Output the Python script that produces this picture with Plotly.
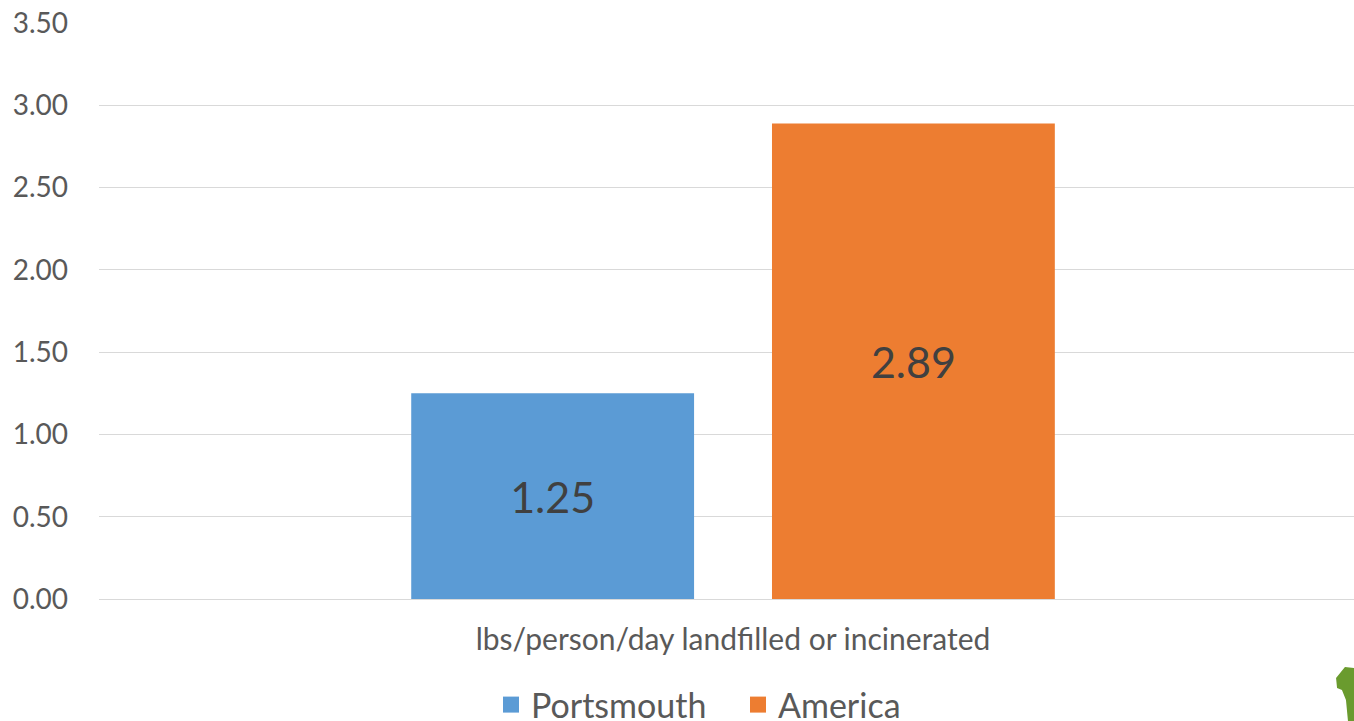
import plotly.graph_objects as go

# Chart data
category = ["lbs/person/day landfilled or incinerated"]
series_names = ["Portsmouth", "America"]
portsmouth_values = [1.25]
america_values = [2.89]
y_tick_values = [0, 0.5, 1.0, 1.5, 2.0, 2.5, 3.0, 3.5]
y_tick_labels = ["0.00", "0.50", "1.00", "1.50", "2.00", "2.50", "3.00", "3.50"]

colors = {"Portsmouth": "#5B9BD5", "America": "#ED7D31"}
text_grey = "#595959"
font_family = "Lato, 'Open Sans', sans-serif"

fig = go.Figure()
for name, values in zip(series_names, [portsmouth_values, america_values]):
    fig.add_trace(go.Bar(
        x=category, y=values, name=name,
        marker=dict(color=colors[name], line=dict(width=0)),
        text=[f"{v:.2f}" for v in values],
        textposition="inside", insidetextanchor="middle",
        textfont=dict(size=43, color="#404040", family=font_family),
        showlegend=False,
    ))
    # legend entry with a bigger square marker
    fig.add_trace(go.Scatter(
        x=[None], y=[None], mode="markers", name=name,
        marker=dict(symbol="square", size=22, color=colors[name]),
    ))

# helper for the small green decoration in the corner (pixel -> paper)
def px(x, y):
    return (x - 99) / 1255, (599 - y) / 576

pts = [px(1336, 678), px(1345, 667), px(1354, 668), px(1354, 721),
       px(1348, 721), px(1346, 700), px(1342, 690), px(1337, 688)]
path = "M " + " L ".join(f"{a:.4f},{b:.4f}" for a, b in pts) + " Z"

fig.update_layout(
    width=1354, height=721,
    margin=dict(l=99, r=0, t=23, b=122, autoexpand=False),
    paper_bgcolor="white", plot_bgcolor="white",
    font=dict(family=font_family, color=text_grey, size=27),
    barmode="group", bargap=0.431, bargroupgap=0.216,
    xaxis=dict(range=[-0.5, 0.4897], showgrid=False, showline=False,
               ticks="", tickfont=dict(size=30, color=text_grey),
               ticklabelstandoff=20, automargin=False),
    yaxis=dict(range=[0, 3.5001], tickvals=y_tick_values, ticktext=y_tick_labels,
               showgrid=True, gridcolor="#D9D9D9", gridwidth=1,
               zeroline=True, zerolinecolor="#D9D9D9", zerolinewidth=1,
               showline=False, ticks="", tickfont=dict(size=28, color=text_grey),
               ticklabelstandoff=30, automargin=False),
    legend=dict(orientation="h", xref="container", x=491 / 1354, xanchor="left",
                yref="container", y=(721 - 705) / 721, yanchor="middle",
                font=dict(size=34, color=text_grey), itemwidth=30,
                entrywidth=202, entrywidthmode="pixels", tracegroupgap=0),
    shapes=[dict(type="path", path=path, xref="paper", yref="paper",
                 fillcolor="#6A9B2E", line=dict(width=0), layer="above")],
)

# drop the default page margin so the figure sits at the window's top-left
fig.write_html("out.html", config={"displayModeBar": False},
               post_script="document.body.style.margin='0';"
                           "document.body.style.overflow='hidden';")
